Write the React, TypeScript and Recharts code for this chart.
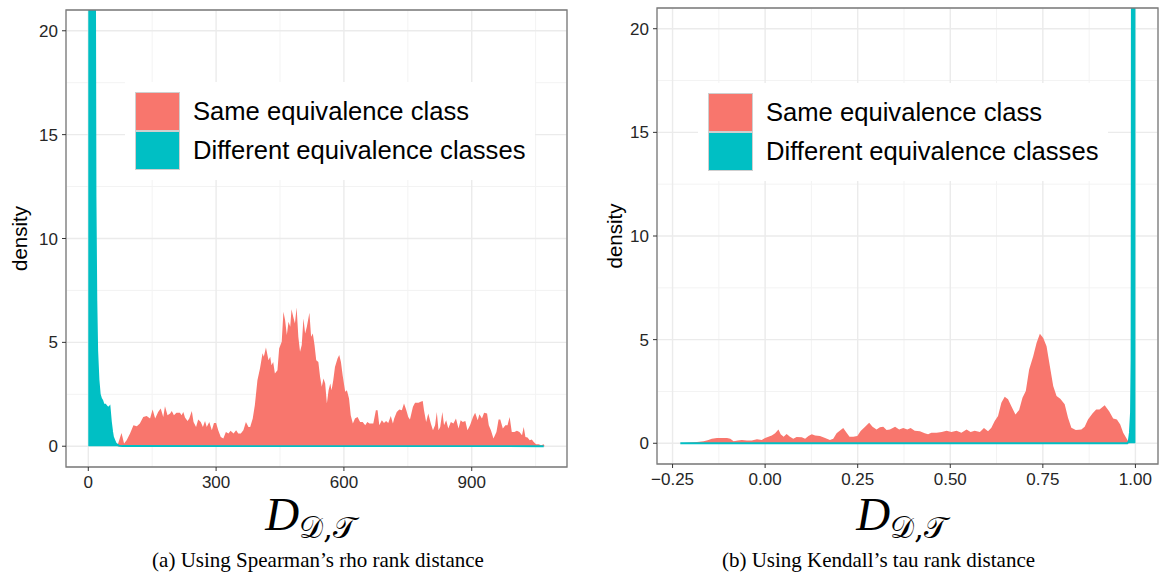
import React from "react";
import {
  AreaChart,
  Area,
  XAxis,
  YAxis,
  CartesianGrid,
  ReferenceArea,
  Legend,
  Label,
} from "recharts";

// ggplot default hues
const RED = "#F8766D";
const CYAN = "#00BFC4";
const FILLS = [RED, CYAN];

const legendLabels = ["Same equivalence class", "Different equivalence classes"];
const captions = [
  "(a) Using Spearman\u2019s rho rank distance",
  "(b) Using Kendall\u2019s tau rank distance",
];

const densityTicks = [0, 5, 10, 15, 20];
const densityMinor = [2.5, 7.5, 12.5, 17.5];
const densityDomain = [-1, 21];

// --- (a) Spearman ---
const spearmanTicks = [0, 300, 600, 900];
const spearmanMinor = [150, 450, 750, 1050];
const spearmanDomain = [-52.3, 1123.6];

const spearmanSameX = [
  68, 78, 84, 90, 98, 106, 114, 121, 129, 137, 145, 151, 157, 164, 170, 176, 180, 186, 192, 196,
  201, 207, 215, 219, 223, 227, 233, 237, 243, 247, 253, 258, 264, 269, 274, 278, 284, 290, 295, 300,
  305, 311, 317, 323, 329, 334, 341, 347, 352, 358, 364, 370, 376, 380, 386, 391, 397, 403, 409, 412,
  417, 423, 427, 430, 434, 438, 444, 448, 454, 458, 462, 466, 470, 474, 477, 481, 485, 489, 493, 497,
  501, 505, 509, 513, 519, 523, 527, 531, 535, 540, 544, 548, 552, 556, 560, 564, 568, 571, 575, 579,
  585, 589, 593, 597, 603, 607, 612, 616, 621, 626, 632, 638, 644, 650, 655, 660, 669, 675, 679, 683,
  689, 694, 699, 704, 710, 715, 718, 724, 730, 736, 741, 746, 751, 755, 762, 767, 775, 780, 785, 788,
  793, 798, 804, 809, 814, 818, 822, 826, 831, 835, 840, 845, 851, 857, 863, 869, 874, 879, 885, 890,
  896, 903, 908, 914, 918, 924, 929, 936, 940, 945, 951, 958, 963, 967, 973, 979, 984, 989, 994, 1000,
  1006, 1012, 1018, 1022, 1026, 1031, 1036, 1041, 1045, 1051, 1057, 1063, 1069, 1071,
];
const spearmanSameY = [
  0, 0.64, 0.13, 0.29, 0.61, 1.01, 0.96, 1.09, 1.41, 1.45, 1.33, 1.77, 1.33, 1.65, 1.82, 1.41, 1.93, 1.49, 1.57, 1.7,
  1.49, 1.61, 1.61, 1.49, 1.65, 1.38, 1.22, 1.33, 1.7, 1.17, 0.93, 1.29, 1.17, 0.93, 1.22, 0.93, 1.17, 0.77, 1.12, 1.12,
  0.77, 0.45, 0.37, 0.69, 0.61, 0.74, 0.61, 0.77, 0.61, 0.61, 0.77, 1.17, 0.93, 0.93, 1.33, 1.98, 3.18, 3.74, 4.47, 4.31,
  4.75, 4.14, 4.31, 3.9, 4.06, 3.5, 3.66, 4.71, 5.03, 6.47, 6.07, 5.35, 5.99, 5.75, 6.59, 6.23, 5.91, 6.68, 5.27, 4.55,
  4.87, 6.15, 5.43, 5.75, 6.43, 5.27, 5.43, 4.87, 4.14, 4.06, 3.34, 2.86, 3.26, 3.02, 2.06, 2.7, 3.02, 2.7, 3.18, 3.82,
  4.22, 4.39, 4.06, 3.42, 2.62, 2.7, 2.3, 1.49, 1.09, 1.33, 1.41, 1.17, 1.17, 1.01, 1.17, 1.09, 1.09, 1.73, 1.73, 1.01,
  1.25, 1.12, 1.22, 1.12, 1.45, 1.09, 1.33, 1.65, 1.77, 1.73, 2.06, 1.77, 1.41, 1.29, 1.9, 2.09, 2.09, 2.14, 2.18, 1.73,
  1.17, 1.57, 1.09, 0.77, 1.01, 1.65, 0.77, 0.93, 1.65, 1.01, 1.25, 0.85, 1.17, 1.09, 1.33, 0.85, 1.25, 1.17, 1.22, 0.77,
  1.01, 1.41, 1.61, 1.25, 1.54, 1.33, 1.61, 1.57, 1.01, 0.77, 0.37, 0.69, 1.29, 1.29, 0.85, 1.01, 1.01, 1.41, 0.69, 0.69,
  0.74, 0.69, 0.53, 0.93, 0.45, 0.42, 0.29, 0.32, 0.21, 0.1, 0.1, 0.05, 0.1, 0,
];
const spearmanDiffX = [0, 15, 17, 19, 21, 24, 27, 30, 33, 36, 40, 44, 48, 50, 53, 56, 58, 61, 64, 68, 72, 80, 1069];
const spearmanDiffY = [40, 30, 12, 7, 4.6, 3.2, 2.5, 2.3, 2.2, 2.0, 2.0, 1.9, 1.85, 1.9, 1.2, 0.7, 0.45, 0.3, 0.15, 0.08, 0.03, 0.01, 0];

// --- (b) Kendall ---
const kendallTicks = [-0.25, 0, 0.25, 0.5, 0.75, 1];
const kendallMinor = [-0.125, 0.125, 0.375, 0.625, 0.875];
const kendallDomain = [-0.292, 1.061];

const kendallSameX = [
  -0.229, -0.184, -0.166, -0.153, -0.144, -0.13, -0.117, -0.103, -0.094, -0.085, -0.074, -0.063, -0.049, -0.036, -0.022,
  -0.009, 0, 0.009, 0.018, 0.027, 0.036, 0.042, 0.05, 0.058, 0.067, 0.076, 0.085, 0.099, 0.108, 0.117, 0.126, 0.135,
  0.148, 0.162, 0.175, 0.184, 0.193, 0.204, 0.211, 0.22, 0.228, 0.238, 0.249, 0.258, 0.27, 0.281, 0.29, 0.301, 0.31,
  0.319, 0.328, 0.337, 0.351, 0.362, 0.373, 0.384, 0.393, 0.404, 0.418, 0.431, 0.44, 0.449, 0.463, 0.477, 0.49, 0.503,
  0.517, 0.53, 0.544, 0.555, 0.566, 0.58, 0.591, 0.602, 0.611, 0.62, 0.629, 0.638, 0.647, 0.656, 0.665, 0.676, 0.686,
  0.695, 0.704, 0.713, 0.724, 0.733, 0.742, 0.751, 0.76, 0.769, 0.778, 0.787, 0.797, 0.809, 0.818, 0.827, 0.839, 0.854,
  0.863, 0.872, 0.884, 0.894, 0.903, 0.917, 0.929, 0.94, 0.95, 0.959, 0.967, 0.98, 0.984,
];
const kendallSameY = [
  0, 0.06, 0.1, 0.16, 0.22, 0.26, 0.26, 0.26, 0.22, 0.1, 0.13, 0.16, 0.13, 0.13, 0.19,
  0.16, 0.26, 0.32, 0.38, 0.48, 0.67, 0.43, 0.32, 0.45, 0.32, 0.22, 0.3, 0.29, 0.22, 0.35, 0.43, 0.38,
  0.35, 0.26, 0.16, 0.22, 0.48, 0.64, 0.74, 0.51, 0.32, 0.32, 0.35, 0.59, 0.8, 0.99, 0.8, 0.67, 0.77,
  0.8, 0.64, 0.67, 0.8, 0.67, 0.74, 0.67, 0.74, 0.61, 0.58, 0.48, 0.43, 0.51, 0.51, 0.54, 0.61, 0.54,
  0.61, 0.51, 0.67, 0.54, 0.61, 0.54, 0.74, 0.58, 0.75, 1.07, 1.31, 1.96, 2.24, 2.12, 1.79, 1.39, 1.6,
  2.2, 2.52, 3.56, 4.2, 4.84, 5.29, 5.08, 4.68, 3.72, 2.76, 2.28, 2.15, 1.88, 1.23, 0.75, 0.64, 0.67,
  0.8, 1.15, 1.44, 1.63, 1.63, 1.83, 1.55, 1.19, 1.15, 0.91, 0.51, 0.11, 0,
];
const kendallDiffX = [-0.229, 0.978, 0.982, 0.985, 0.988, 0.9895, 0.99, 0.991, 1.0];
const kendallDiffY = [0, 0, 0.1, 0.5, 1.5, 4, 12, 40, 40];

function mergeSeries(sameX: number[], sameY: number[], diffX: number[], diffY: number[]) {
  const rows: { x: number; same?: number; diff?: number }[] = [];
  sameX.forEach((x, i) => rows.push({ x, same: sameY[i] }));
  diffX.forEach((x, i) => rows.push({ x, diff: diffY[i] }));
  return rows.sort((a, b) => a.x - b.x);
}

const spearmanData = mergeSeries(spearmanSameX, spearmanSameY, spearmanDiffX, spearmanDiffY);
const kendallData = mergeSeries(kendallSameX, kendallSameY, kendallDiffX, kendallDiffY);

const fmtKendall = (v: number) => (v < 0 ? "\u2212" + Math.abs(v).toFixed(2) : v.toFixed(2));

function LegendBox() {
  return (
    <div style={{ background: "#fff", padding: 10, fontFamily: "Liberation Sans", fontSize: 25.6, color: "#000" }}>
      {legendLabels.map((label, i) => (
        <div key={label} style={{ display: "flex", alignItems: "center", height: 39 }}>
          <span
            style={{
              width: 45,
              height: 39,
              boxSizing: "border-box",
              background: FILLS[i],
              border: "1px solid #cfcfcf",
            }}
          />
          <span style={{ marginLeft: 13, whiteSpace: "nowrap" }}>{label}</span>
        </div>
      ))}
    </div>
  );
}

type PanelProps = {
  data: any[];
  width: number;
  margin: { top: number; right: number; bottom: number; left: number };
  yAxisWidth: number;
  xAxisHeight: number;
  xDomain: number[];
  xTicks: number[];
  xMinor: number[];
  fmt?: (v: number) => string;
  legendPos: { left: number; top: number };
  yLabelX: number;
  titleDy: number;
};

function DensityPanel(p: PanelProps) {
  const tickStyle = { fontFamily: "Liberation Sans", fontSize: 17, fill: "#262626" };
  return (
    <AreaChart width={p.width} height={573} data={p.data} margin={p.margin}>
      <CartesianGrid
        stroke="#F3F3F3"
        strokeWidth={1}
        horizontalValues={densityMinor}
        verticalValues={p.xMinor}
      />
      <CartesianGrid stroke="#EBEBEB" strokeWidth={1.4} />
      <XAxis
        dataKey="x"
        type="number"
        domain={p.xDomain}
        ticks={p.xTicks}
        interval={0}
        allowDataOverflow
        height={p.xAxisHeight}
        axisLine={false}
        tickLine={{ stroke: "#333" }}
        tickSize={4}
        tickMargin={5}
        tick={tickStyle}
        tickFormatter={p.fmt}
      >
        <Label
          content={(lp: any) => {
            const vb = lp.viewBox;
            return (
              <text x={vb.x + vb.width / 2 - 6} y={vb.y + p.titleDy} textAnchor="middle" fill="#000">
                <tspan fontFamily="Liberation Serif" fontStyle="italic" fontSize={47}>
                  D
                </tspan>
                <tspan fontFamily="DejaVu Serif" fontSize={30} dy={8}>
                  {"\u{1D49F},\u{1D4AF}"}
                </tspan>
              </text>
            );
          }}
        />
      </XAxis>
      <YAxis
        type="number"
        domain={densityDomain}
        ticks={densityTicks}
        interval={0}
        allowDataOverflow
        width={p.yAxisWidth}
        axisLine={false}
        tickLine={{ stroke: "#333" }}
        tickSize={4}
        tickMargin={4}
        tick={tickStyle}
      >
        <Label
          content={(lp: any) => {
            const vb = lp.viewBox;
            const cx = vb.x + p.yLabelX;
            const cy = vb.y + vb.height / 2;
            return (
              <text
                x={cx}
                y={cy}
                transform={`rotate(-90, ${cx}, ${cy})`}
                textAnchor="middle"
                dominantBaseline="central"
                fontFamily="Liberation Sans"
                fontSize={20.5}
                fill="#000"
              >
                density
              </text>
            );
          }}
        />
      </YAxis>
      <Area
        dataKey="same"
        type="linear"
        baseValue={0}
        fill={RED}
        fillOpacity={1}
        stroke="none"
        connectNulls
        dot={false}
        activeDot={false}
        isAnimationActive={false}
      />
      <Area
        dataKey="diff"
        type="linear"
        baseValue={0}
        fill={CYAN}
        fillOpacity={1}
        stroke={CYAN}
        strokeWidth={1.8}
        connectNulls
        dot={false}
        activeDot={false}
        isAnimationActive={false}
      />
      <ReferenceArea
        x1={p.xDomain[0]}
        x2={p.xDomain[1]}
        y1={densityDomain[0]}
        y2={densityDomain[1]}
        fill="none"
        stroke="#7a7a7a"
        strokeWidth={1.3}
      />
      <Legend
        layout="vertical"
        align="center"
        verticalAlign="middle"
        content={() => <LegendBox />}
        wrapperStyle={{ left: p.legendPos.left, top: p.legendPos.top, width: "auto" }}
      />
    </AreaChart>
  );
}

export default function App() {
  const captionStyle: React.CSSProperties = {
    position: "absolute",
    top: 548,
    textAlign: "center",
    fontFamily: "Liberation Serif",
    fontSize: 21,
    color: "#000",
    whiteSpace: "nowrap",
  };
  return (
    <div style={{ position: "absolute", left: 0, top: 0, width: 1159, height: 573, background: "#fff" }}>
      <div style={{ position: "absolute", left: 0, top: 0 }}>
        <DensityPanel
          data={spearmanData}
          width={575}
          margin={{ top: 10, right: 8, bottom: 73, left: 0 }}
          yAxisWidth={66}
          xAxisHeight={33}
          xDomain={spearmanDomain}
          xTicks={spearmanTicks}
          xMinor={spearmanMinor}
          legendPos={{ left: 125, top: 82 }}
          yLabelX={19}
          titleDy={63}
        />
      </div>
      <div style={{ position: "absolute", left: 600, top: 0 }}>
        <DensityPanel
          data={kendallData}
          width={559}
          margin={{ top: 8, right: 1, bottom: 73, left: 0 }}
          yAxisWidth={57}
          xAxisHeight={36}
          xDomain={kendallDomain}
          xTicks={kendallTicks}
          xMinor={kendallMinor}
          fmt={fmtKendall}
          legendPos={{ left: 98, top: 83 }}
          yLabelX={14}
          titleDy={66}
        />
      </div>
      <div style={{ ...captionStyle, left: 0, width: 636 }}>{captions[0]}</div>
      <div style={{ ...captionStyle, left: 600, width: 557 }}>{captions[1]}</div>
    </div>
  );
}
